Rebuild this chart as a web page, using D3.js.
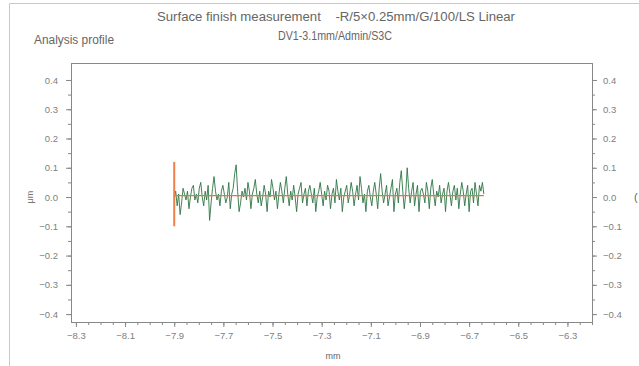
<!DOCTYPE html>
<html>
<head>
<meta charset="utf-8">
<script src="https://cdn.jsdelivr.net/npm/d3@7.9.0/dist/d3.min.js"></script>
<style>
  body { margin: 0; background: #fff; }
  svg { display: block; font-family: "Liberation Sans", "DejaVu Sans", sans-serif; }
  .tick text { fill: #808080; font-size: 9.5px; }
  .domain, .tick line { stroke: #888; }
</style>
</head>
<body>
<svg id="chart" width="639" height="366"></svg>
<script>
// tick labels
const xTicks = [-8.3, -8.1, -7.9, -7.7, -7.5, -7.3, -7.1, -6.9, -6.7, -6.5, -6.3];
const yTicks = [0.4, 0.3, 0.2, 0.1, 0.0, -0.1, -0.2, -0.3, -0.4];

// profile samples (mm, μm)
const profileStart = -7.9;
const profileStep = 0.006;
const profileValues = [
  0.00, 0.02, -0.03, 0.01, -0.06, -0.02, 0.03, 0.01, -0.01, 0.02, -0.04, 0.00, 0.03, 0.04, -0.01,
  0.01, -0.02, 0.03, 0.05, 0.00, -0.03, 0.02, -0.01, 0.04, -0.08, -0.02, 0.03, 0.07, 0.02, -0.01,
  0.01, -0.03, 0.02, 0.04, 0.01, -0.02, 0.00, 0.05, -0.04, 0.01, 0.03, 0.08, 0.11, 0.02, -0.05,
  -0.02, 0.02, 0.00, 0.03, -0.01, 0.05, 0.02, -0.04, 0.01, 0.03, 0.06, 0.01, -0.02, 0.02, -0.03,
  0.00, 0.04, 0.01, -0.05, 0.02, 0.00, 0.06, 0.03, -0.01, 0.02, -0.04, 0.01, 0.05, 0.02, -0.02,
  0.03, 0.07, 0.01, -0.03, 0.02, -0.01, 0.04, 0.00, -0.05, 0.01, 0.03, 0.05, -0.02, 0.01, 0.03,
  -0.03, 0.02, 0.04, 0.01, -0.02, 0.03, -0.05, 0.00, 0.02, 0.05, 0.01, -0.03, 0.02, -0.01, 0.04,
  0.02, -0.04, 0.01, 0.03, -0.02, 0.06, 0.02, -0.01, 0.03, -0.05, 0.00, 0.02, 0.04, -0.02, 0.01,
  0.05, 0.02, -0.03, 0.01, 0.04, -0.01, 0.07, 0.03, -0.02, 0.01, -0.05, 0.02, 0.04, 0.00, -0.03,
  0.02, 0.05, 0.01, -0.04, 0.03, 0.08, 0.02, -0.02, 0.01, 0.04, -0.03, 0.00, 0.03, 0.06, -0.05,
  0.01, 0.03, -0.02, 0.05, 0.09, 0.02, -0.04, 0.01, 0.10, 0.03, -0.02, 0.02, 0.05, -0.03, 0.01,
  0.04, -0.05, 0.02, 0.03, 0.01, -0.02, 0.05, 0.02, -0.04, 0.03, 0.06, 0.01, -0.03, 0.02, 0.00,
  0.04, -0.02, 0.01, 0.03, -0.05, 0.02, 0.05, 0.01, -0.03, 0.02, 0.04, -0.01, 0.03, -0.04, 0.01,
  0.05, 0.02, -0.03, 0.01, 0.04, -0.05, 0.02, 0.03, -0.02, 0.05, 0.01, -0.03, 0.04, 0.02, 0.05,
  0.01
];

// reference (orange) line: vertical marker + mean line
const refMarker = [0.12, -0.10];
const refLevel = 0.005;

const margin = { top: 63, right: 47, bottom: 44, left: 71 };
const width = 639, height = 366;

const svg = d3.select('#chart');

// outer frame of the report
svg.append('path')
  .attr('d', `M9.5,${height} V3.5 H${width}`)
  .attr('fill', 'none')
  .attr('stroke', '#c8c8c8');

const x = d3.scaleLinear().domain([-8.32, -6.2]).range([margin.left, width - margin.right]);
const y = d3.scaleLinear().domain([-0.427, 0.458]).range([height - margin.bottom, margin.top]);

const fmt = d3.format('.1f');

// minor ticks first
svg.append('g')
  .attr('transform', `translate(0,${height - margin.bottom})`)
  .call(d3.axisBottom(x).tickValues(d3.range(-8.3, -6.2, 0.05)).tickSize(3).tickFormat(''))
  .call(g => g.select('.domain').remove());
svg.append('g')
  .attr('transform', `translate(${margin.left},0)`)
  .call(d3.axisLeft(y).tickValues(d3.range(-0.4, 0.45, 0.05)).tickSize(3).tickFormat(''))
  .call(g => g.select('.domain').remove());
svg.append('g')
  .attr('transform', `translate(${width - margin.right},0)`)
  .call(d3.axisRight(y).tickValues(d3.range(-0.4, 0.45, 0.05)).tickSize(3).tickFormat(''))
  .call(g => g.select('.domain').remove());

// major ticks
svg.append('g')
  .attr('transform', `translate(0,${height - margin.bottom})`)
  .call(d3.axisBottom(x).tickValues(xTicks).tickSize(5).tickPadding(5).tickFormat(fmt))
  .call(g => g.select('.domain').remove());
svg.append('g')
  .attr('transform', `translate(${margin.left},0)`)
  .call(d3.axisLeft(y).tickValues(yTicks).tickSize(5).tickPadding(8).tickFormat(fmt))
  .call(g => g.select('.domain').remove());
svg.append('g')
  .attr('transform', `translate(${width - margin.right},0)`)
  .call(d3.axisRight(y).tickValues(yTicks).tickSize(5).tickPadding(6).tickFormat(fmt))
  .call(g => g.select('.domain').remove());

// plot frame
svg.append('rect')
  .attr('x', margin.left + 0.5)
  .attr('y', margin.top + 0.5)
  .attr('width', width - margin.right - margin.left)
  .attr('height', height - margin.bottom - margin.top)
  .attr('fill', 'none')
  .attr('stroke', '#888');

// profile
const line = d3.line()
  .x((d, i) => x(profileStart + i * profileStep))
  .y(d => y(d));

svg.append('path')
  .datum(profileValues)
  .attr('d', line)
  .attr('fill', 'none')
  .attr('stroke', '#2d7544')
  .attr('stroke-width', 0.9)
  .attr('stroke-linejoin', 'round');

// reference line
const profileEnd = profileStart + (profileValues.length - 1) * profileStep;
svg.append('line')
  .attr('x1', x(profileStart)).attr('x2', x(profileStart))
  .attr('y1', y(refMarker[0])).attr('y2', y(refMarker[1]))
  .attr('stroke', '#f07f4a').attr('stroke-width', 2);
svg.append('line')
  .attr('x1', x(profileStart)).attr('x2', x(profileEnd))
  .attr('y1', y(refLevel)).attr('y2', y(refLevel))
  .attr('stroke', '#e8743b').attr('stroke-width', 1.2);

// titles and labels (condensed like the report font)
const text = (tx, ty, s, size, anchor = 'start', len = null) => {
  const t = svg.append('text')
    .attr('x', tx).attr('y', ty)
    .attr('fill', '#666')
    .attr('font-size', size)
    .attr('text-anchor', anchor)
    .style('white-space', 'pre')
    .text(s);
  if (len) t.attr('textLength', len).attr('lengthAdjust', 'spacingAndGlyphs');
  return t;
};

text(336, 21, 'Surface finish measurement    -R/5×0.25mm/G/100/LS Linear', 12.5, 'middle', 358);
text(335, 40, 'DV1-3.1mm/Admin/S3C', 12.5, 'middle', 114);
text(34, 44, 'Analysis profile', 12, 'start', 80);
text(333, 359, 'mm', 9, 'middle');

svg.append('text')
  .attr('transform', `translate(33,${y(0)}) rotate(-90)`)
  .attr('fill', '#777')
  .attr('font-size', 9)
  .attr('text-anchor', 'middle')
  .text('μm');

text(634, y(0) + 4, '(', 11);
</script>
</body>
</html>
